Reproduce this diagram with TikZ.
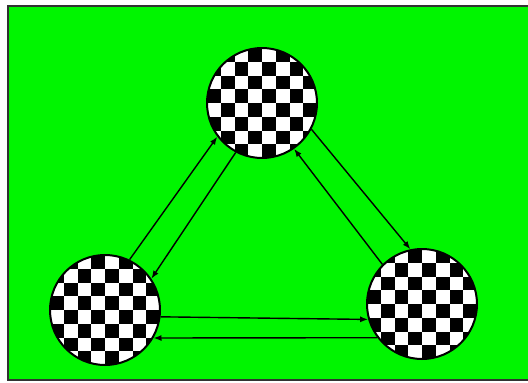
\documentclass[tikz,border=0pt]{standalone}
\usepackage{tikz}
\usetikzlibrary{calc, arrows.meta}
\definecolor{fieldgreen}{RGB}{0,245,0}
\definecolor{framegray}{RGB}{50,50,50}
\tikzset{
    checkerdisc/.style={
        circle, draw=black, line width=2pt, fill=white,
        minimum size=110pt, inner sep=0pt,
        path picture={
            \foreach \i in {0,...,7}
                \foreach \j in {0,...,7} {
                    \pgfmathtruncatemacro\cellpar{mod(\i+\j,2)}
                    \ifnum\cellpar=1
                        \fill[black] ($(path picture bounding box.north west)+(\i*13.75,\j*13.75)$) rectangle ++(13.75,13.75);
                    \fi
                }
        }
    },
    link/.style={draw=black, line width=1.4pt, -{Latex[length=8pt,width=6pt]}}
}
\begin{document}
\begin{tikzpicture}[x=1pt, y=-1pt]
        \useasboundingbox (0,0) rectangle (528,383);
        % Green field with its frame (right side runs off the page)
        \fill[white] (0,0) rectangle (528,383);
        \draw[fill=fieldgreen, draw=framegray, line width=1.6pt] (8,6) rectangle (545,380);

        % The three discs
        \node[checkerdisc] (top)   at (262,103) {};
        \node[checkerdisc] (left)  at (105,310) {};
        \node[checkerdisc] (right) at (422,304) {};

        % Left <-> top
        \draw[link] (left.64)  -- (top.217);
        \draw[link] (top.242)  -- (left.34);
        % Top <-> right
        \draw[link] (top.332)  -- (right.102);
        \draw[link] (right.135) -- (top.305);
        % Left <-> right
        \draw[link] (left.353) -- (right.196);
        \draw[link] (right.217) -- (left.330);
    \end{tikzpicture}
\end{document}
